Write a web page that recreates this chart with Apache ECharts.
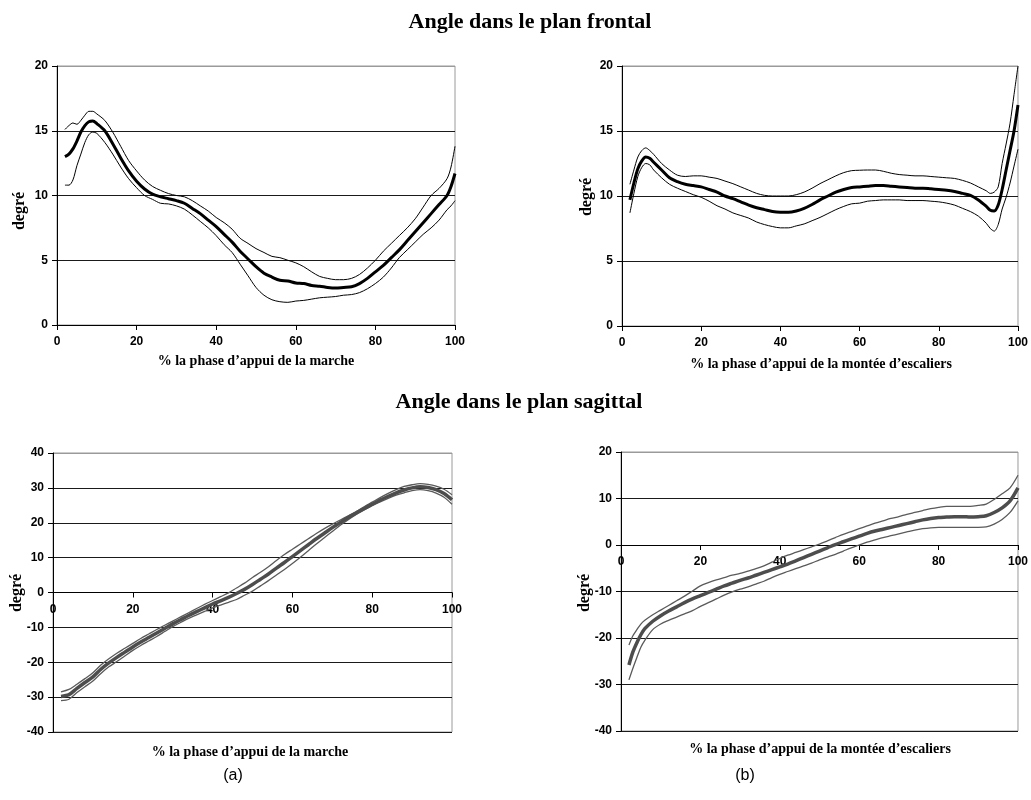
<!DOCTYPE html>
<html><head><meta charset="utf-8">
<script src="https://cdn.jsdelivr.net/npm/echarts@6/dist/echarts.min.js"></script>
<style>html,body{margin:0;padding:0;background:#fff}#c{width:1031px;height:800px}</style>
</head><body><div id="c"></div>
<script>
// ---------- DATA ----------
const titleTop = 'Angle dans le plan frontal';
const titleBottom = 'Angle dans le plan sagittal';
const yName = 'degré';
const xNameWalk = '% la phase d\u2019appui de la marche';
const xNameStairs = '% la phase d\u2019appui de la mont\u00e9e d\u2019escaliers';
const panelLetters = ['(a)', '(b)'];

// Panel 1: frontal, walking
const x1 = [2,3,4,5,6,7,8,9,10,12,14,16,18,20,22,24,26,28,30,32,34,36,38,40,42,44,46,48,50,52,54,56,58,60,62,64,66,68,70,72,74,76,78,80,82,84,86,88,90,92,94,96,98,99,100];
const mean1 = [13.0,13.2,13.6,14.2,14.9,15.4,15.7,15.75,15.55,
  15.0,14.0,12.9,11.9,11.1,10.5,10.1,9.9,9.75,9.6,
  9.4,9.0,8.6,8.1,7.6,7.0,6.4,5.7,5.1,4.5,
  4.0,3.7,3.45,3.4,3.25,3.2,3.05,3.0,2.9,2.85,
  2.9,2.95,3.2,3.6,4.1,4.6,5.2,5.8,6.5,7.2,
  7.9,8.6,9.3,10.0,10.7,11.7];
const up1 = [15.1,15.4,15.6,15.5,15.8,16.2,16.5,16.5,16.3,
  15.8,14.9,13.8,12.7,11.9,11.2,10.7,10.4,10.15,10.0,
  9.9,9.6,9.2,8.8,8.3,7.9,7.4,6.7,6.3,5.9,
  5.6,5.3,5.2,5.0,4.8,4.5,4.1,3.75,3.6,3.5,
  3.5,3.6,3.9,4.4,5.0,5.7,6.3,6.9,7.5,8.2,
  9.1,10.0,10.55,11.3,12.2,13.8];
const low1 = [10.8,10.8,11.2,12.3,13.2,14.1,14.7,14.9,14.8,
  14.1,13.2,12.2,11.3,10.6,10.0,9.7,9.4,9.35,9.2,
  8.95,8.5,8.0,7.5,6.9,6.2,5.6,4.7,3.8,2.9,
  2.3,1.95,1.8,1.75,1.85,1.9,2.0,2.1,2.15,2.2,
  2.3,2.35,2.5,2.8,3.2,3.7,4.4,5.2,5.8,6.4,
  7.0,7.5,8.1,8.9,9.2,9.6];

// Panel 2: frontal, stairs
const x2 = [2,3,4,5,6,7,8,10,12,14,16,18,20,22,24,26,28,30,32,34,36,38,40,42,44,46,48,50,52,54,56,58,60,62,64,66,68,70,72,74,76,78,80,82,84,86,88,90,92,93,94,95,96,97,98,99,100];
const mean2 = [9.7,11.0,12.1,12.7,13.0,12.9,12.6,
  12.0,11.4,11.1,10.9,10.8,10.7,10.5,10.3,10.0,9.8,
  9.55,9.3,9.1,8.95,8.8,8.75,8.75,8.85,9.05,9.35,
  9.7,10.0,10.3,10.5,10.65,10.7,10.75,10.8,10.8,10.75,
  10.7,10.65,10.6,10.6,10.55,10.5,10.45,10.35,10.2,10.05,
  9.7,
  9.2,8.9,8.85,9.3,10.5,12.0,13.5,15.0,17.0];
const up2 = [10.9,12.0,13.0,13.5,13.7,13.5,13.2,
  12.5,12.0,11.6,11.5,11.55,11.55,11.45,11.35,11.15,10.95,
  10.7,10.45,10.2,10.05,10.0,10.0,10.0,10.1,10.3,10.6,
  10.95,11.25,11.55,11.8,11.95,11.98,12.0,12.0,11.9,11.75,
  11.65,11.6,11.55,11.55,11.5,11.45,11.4,11.35,11.2,11.0,
  10.7,
  10.4,10.2,10.3,10.7,12.5,14.0,15.6,17.8,20.0];
const low2 = [8.7,10.2,11.5,12.2,12.5,12.4,12.0,
  11.4,10.9,10.6,10.35,10.1,9.9,9.6,9.25,9.0,8.7,
  8.5,8.3,8.0,7.8,7.65,7.55,7.55,7.7,7.85,8.1,
  8.35,8.65,8.95,9.2,9.4,9.45,9.6,9.65,9.7,9.7,
  9.7,9.65,9.65,9.65,9.6,9.55,9.45,9.3,9.05,8.8,
  8.45,
  7.9,7.5,7.3,7.8,9.0,9.9,11.0,12.3,13.6];

// Panel 3: sagittal, walking
const x3 = [2,4,6,8,10,12,14,16,18,20,22,24,26,28,30,32,34,36,38,40,42,44,46,48,50,52,54,56,58,60,62,64,66,68,70,72,74,76,78,80,82,84,86,88,90,92,94,96,98,100];
const mean3 = [-29.8,-29.3,-27.5,-25.8,-24.2,-22.0,-20.2,-18.6,-17.1,-15.6,
  -14.2,-12.9,-11.6,-10.3,-9.0,-7.8,-6.6,-5.5,-4.4,-3.3,
  -2.4,-1.4,-0.3,0.9,2.3,3.8,5.3,7.0,8.6,10.3,
  12.0,13.7,15.4,17.0,18.6,20.1,21.5,22.8,24.1,25.3,
  26.5,27.6,28.6,29.4,30.0,30.3,30.1,29.5,28.4,26.6];
const up3 = [-28.5,-27.8,-26.3,-24.7,-23.0,-20.8,-19.0,-17.4,-16.0,-14.6,
  -13.2,-11.9,-10.6,-9.4,-8.2,-7.0,-5.8,-4.6,-3.4,-2.3,
  -1.2,-0.1,1.3,2.7,4.3,5.8,7.4,9.2,10.9,12.4,
  13.9,15.4,16.9,18.3,19.6,20.8,22.0,23.2,24.6,25.9,
  27.2,28.4,29.5,30.4,30.9,31.2,31.0,30.5,29.6,28.0];
const low3 = [-31.0,-30.6,-28.7,-27.0,-25.4,-23.2,-21.3,-19.8,-18.2,-16.6,
  -15.2,-13.9,-12.6,-11.2,-9.8,-8.6,-7.4,-6.4,-5.4,-4.4,
  -3.6,-2.8,-2.0,-0.8,0.4,1.9,3.4,5.0,6.6,8.3,
  10.1,12.0,13.9,15.7,17.5,19.3,20.9,22.4,23.7,24.9,
  26.0,27.0,27.9,28.6,29.2,29.5,29.2,28.5,27.3,25.3];

// Panel 4: sagittal, stairs
const x4 = [2,3,4,5,6,8,10,12,14,16,18,20,22,24,26,28,30,32,34,36,38,40,42,44,46,48,50,52,54,56,58,60,62,64,66,68,70,72,74,76,78,80,82,84,86,88,90,92,94,96,98,100];
const mean4 = [-25.8,-23.0,-21.0,-19.3,
  -18.0,-16.4,-15.2,-14.2,-13.3,-12.4,-11.6,-10.9,-10.2,-9.5,
  -8.8,-8.2,-7.6,-7.1,-6.5,-5.9,-5.3,-4.7,-4.1,-3.4,
  -2.7,-2.0,-1.3,-0.6,0.1,0.7,1.3,1.9,2.5,3.0,
  3.4,3.8,4.2,4.6,5.0,5.4,5.7,5.9,6.0,6.1,
  6.1,6.0,6.1,6.3,7.0,8.0,9.5,12.3];
const up4 = [-21.5,-19.5,-18.2,-17.0,
  -16.2,-15.0,-14.0,-13.0,-12.0,-11.0,-9.9,-8.8,-8.1,-7.5,
  -7.0,-6.5,-6.1,-5.6,-5.1,-4.5,-3.7,-2.9,-2.2,-1.6,
  -1.0,-0.4,0.2,0.9,1.6,2.3,2.9,3.5,4.1,4.7,
  5.2,5.7,6.1,6.6,7.0,7.4,7.8,8.1,8.3,8.3,
  8.3,8.3,8.5,8.8,9.8,11.0,12.3,15.0];
const low4 = [-29.0,-26.5,-24.2,-22.0,
  -20.5,-18.2,-17.0,-16.2,-15.5,-14.8,-14.1,-13.2,-12.4,-11.6,
  -10.8,-10.1,-9.5,-9.0,-8.4,-7.8,-7.0,-6.3,-5.7,-5.1,
  -4.5,-3.9,-3.2,-2.6,-2.0,-1.3,-0.6,0.0,0.6,1.1,
  1.6,2.0,2.4,2.8,3.2,3.5,3.7,3.8,3.8,3.8,
  3.8,3.8,3.8,3.9,4.5,5.5,7.0,9.5];

// ---------- CHART ----------
const pairs = (xs, ys) => xs.map((x, i) => [x, ys[i]]);
const tickFont = { fontFamily: 'Liberation Sans, Arial, sans-serif', fontWeight: 'bold', fontSize: 12, color: '#000' };
const serifBold = '"Liberation Serif", "Times New Roman", serif';

const gridBoxes = [
  { left: 57, top: 66, width: 398, height: 259 },
  { left: 622, top: 66, width: 397, height: 260 },
  { left: 53, top: 453, width: 399, height: 279 },
  { left: 621, top: 452, width: 399, height: 279 }
];
const yRanges = [[0, 20, 5], [0, 20, 5], [-40, 40, 10], [-40, 20, 10]];

const grids = gridBoxes.map(g => Object.assign({}, g, { show: true, borderColor: '#9a9a9a', borderWidth: 1, backgroundColor: 'transparent', containLabel: false }));

function xAx(i) {
  const r = yRanges[i];
  // x axis crosses the y axis at 0 (offset upward from the grid bottom)
  const off = r[0] < 0 ? -gridBoxes[i].height * (0 - r[0]) / (r[1] - r[0]) : 0;
  return {
    type: 'value', gridIndex: i, min: 0, max: 100, interval: 20, position: 'bottom', offset: off,
    axisLine: { show: true, onZero: false, lineStyle: { color: '#000', width: 1 } },
    axisTick: { show: true, inside: false, length: 5, lineStyle: { color: '#000' } },
    axisLabel: Object.assign({ margin: 11 }, tickFont),
    splitLine: { show: false }
  };
}
function yAx(i) {
  const r = yRanges[i];
  const nLines = Math.round((r[1] - r[0]) / r[2]) + 1;
  const cols = [];
  for (let k = 0; k < nLines; k++) cols.push(k === nLines - 1 ? '#9a9a9a' : '#1a1a1a');
  return {
    type: 'value', gridIndex: i, min: r[0], max: r[1], interval: r[2],
    axisLine: { show: true, onZero: false, lineStyle: { color: '#000', width: 1 } },
    axisTick: { show: true, inside: false, length: 5, lineStyle: { color: '#000' } },
    axisLabel: Object.assign({ margin: 9 }, tickFont),
    splitLine: { show: true, lineStyle: { color: cols, width: 1 } }
  };
}

function band(idx, xs, mean, up, low, dark) {
  const meanColor = dark ? '#000' : '#4d4d4d';
  const sdColor = dark ? '#000' : '#5a5a5a';
  const base = { type: 'line', xAxisIndex: idx, yAxisIndex: idx, showSymbol: false, symbol: 'none', smooth: 0.3, silent: true, animation: false };
  return [
    Object.assign({}, base, { data: pairs(xs, up), lineStyle: { color: sdColor, width: dark ? 1 : 1.3 } }),
    Object.assign({}, base, { data: pairs(xs, low), lineStyle: { color: sdColor, width: dark ? 1 : 1.3 } }),
    Object.assign({}, base, { data: pairs(xs, mean), lineStyle: { color: meanColor, width: dark ? 3 : 3.5 } })
  ];
}

function txt(text, x, y, font, rot) {
  return { type: 'text', x: x, y: y, rotation: rot || 0,
    style: { text: text, font: font, fill: '#000', textAlign: 'center', textVerticalAlign: 'middle', verticalAlign: 'middle' } };
}

const option = {
  animation: false,
  backgroundColor: '#fff',
  grid: grids,
  xAxis: [xAx(0), xAx(1), xAx(2), xAx(3)],
  yAxis: [yAx(0), yAx(1), yAx(2), yAx(3)],
  series: [].concat(
    band(0, x1, mean1, up1, low1, true),
    band(1, x2, mean2, up2, low2, true),
    band(2, x3, mean3, up3, low3, false),
    band(3, x4, mean4, up4, low4, false)
  ),
  graphic: [
    txt(titleTop, 530, 22, 'bold 22px ' + serifBold),
    txt(titleBottom, 519, 402, 'bold 22px ' + serifBold),
    txt(xNameWalk, 256, 361, 'bold 14px ' + serifBold),
    txt(xNameStairs, 821, 364, 'bold 14px ' + serifBold),
    txt(xNameWalk, 250, 752, 'bold 14px ' + serifBold),
    txt(xNameStairs, 820, 749, 'bold 14px ' + serifBold),
    txt(yName, 20, 211, 'bold 16px ' + serifBold, Math.PI / 2),
    txt(yName, 587, 197, 'bold 16px ' + serifBold, Math.PI / 2),
    txt(yName, 17, 593, 'bold 16px ' + serifBold, Math.PI / 2),
    txt(yName, 585, 593, 'bold 16px ' + serifBold, Math.PI / 2),
    txt(panelLetters[0], 233, 776, '16px "Liberation Sans", Arial, sans-serif'),
    txt(panelLetters[1], 745, 776, '16px "Liberation Sans", Arial, sans-serif')
  ]
};
const chart = echarts.init(document.getElementById('c'), null, { renderer: 'canvas' });
chart.setOption(option);
</script>
</body></html>
